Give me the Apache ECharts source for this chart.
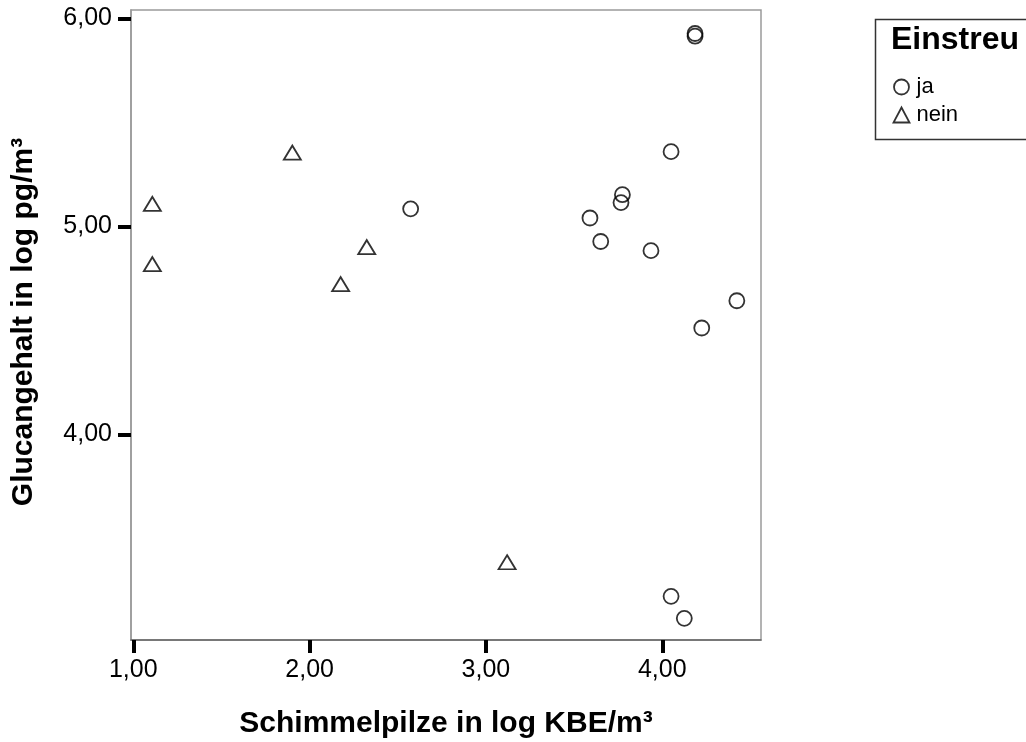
<!DOCTYPE html>
<html>
<head>
<meta charset="utf-8">
<script src="https://cdn.jsdelivr.net/npm/echarts@6/dist/echarts.min.js"></script>
<style>html,body{margin:0;padding:0;background:#fff}#c{width:1026px;height:742px}</style>
</head>
<body>
<div id="c"></div>
<script>
// Data
const groupNames = ['ja', 'nein'];
const jaX = [2.573, 3.590, 3.651, 3.774, 3.766, 3.936, 4.050, 4.186, 4.186, 4.224, 4.423, 4.050, 4.125];
const jaY = [5.085, 5.041, 4.928, 5.153, 5.115, 4.884, 5.360, 5.928, 5.915, 4.512, 4.643, 3.222, 3.116];
const neinX = [1.108, 1.108, 1.902, 2.176, 2.324, 3.120];
const neinY = [5.109, 4.819, 5.355, 4.723, 4.901, 3.386];
const xTicks = [1, 2, 3, 4];
const yTicks = [4, 5, 6];
const xTitle = 'Schimmelpilze in log KBE/m³';
const yTitle = 'Glucangehalt in log pg/m³';
const legendTitle = 'Einstreu';

const FONT = '"Liberation Sans", Arial, Helvetica, sans-serif';
const fmt = v => Number(v).toFixed(2).replace('.', ',');
const pairs = (xs, ys) => xs.map((x, i) => [x, ys[i]]);

const chart = echarts.init(document.getElementById('c'), null, {renderer: 'canvas'});
chart.setOption({
  animation: false,
  backgroundColor: '#fff',
  grid: {left: 131, top: 10, right: 265, bottom: 102, show: true, borderColor: '#9a9a9a', borderWidth: 1.5},
  xAxis: {
    type: 'value', min: 0.987, max: 4.560,
    axisLine: {show: true, lineStyle: {color: '#666', width: 1.5}},
    axisTick: {show: true, customValues: xTicks, length: 13, lineStyle: {color: '#000', width: 4}},
    axisLabel: {customValues: xTicks, formatter: fmt, margin: 18, fontSize: 25, color: '#000', fontFamily: FONT},
    splitLine: {show: false}
  },
  yAxis: {
    type: 'value', min: 3.012, max: 6.041,
    axisLine: {show: true, lineStyle: {color: '#9a9a9a', width: 1.5}},
    axisTick: {show: true, customValues: yTicks, length: 13, lineStyle: {color: '#000', width: 4}},
    axisLabel: {customValues: yTicks, formatter: fmt, margin: 19, fontSize: 25, color: '#000', fontFamily: FONT},
    splitLine: {show: false}
  },
  legend: {
    orient: 'vertical', left: 886, top: 71, itemGap: 6, itemWidth: 16, itemHeight: 15,
    textStyle: {fontSize: 22, color: '#000', fontFamily: FONT, padding: [0, 0, 0, 2]},
    data: [
      {name: groupNames[0], icon: 'circle', itemStyle: {color: 'none', borderColor: '#000', borderWidth: 1.8}},
      {name: groupNames[1], icon: 'triangle', itemStyle: {color: 'none', borderColor: '#000', borderWidth: 1.8}}
    ]
  },
  graphic: [
    {type: 'rect', left: 873, top: 17, shape: {width: 200, height: 120}, style: {fill: 'none', stroke: '#333', lineWidth: 1.5}},
    {type: 'text', x: 891, y: 56, style: {text: legendTitle, font: 'bold 32px ' + FONT, fill: '#000', textAlign: 'left', textVerticalAlign: 'bottom'}},
    {type: 'text', x: 446, y: 724, style: {text: xTitle, font: 'bold 30px ' + FONT, fill: '#000', textAlign: 'center', textVerticalAlign: 'middle'}},
    {type: 'text', x: 24, y: 322, rotation: Math.PI / 2, style: {text: yTitle, font: 'bold 30px ' + FONT, fill: '#000', textAlign: 'center', textVerticalAlign: 'middle'}}
  ],
  series: [
    {name: groupNames[0], type: 'scatter', symbol: 'circle', symbolSize: 15,
     itemStyle: {color: 'none', borderColor: '#000', borderWidth: 1.8}, data: pairs(jaX, jaY)},
    {name: groupNames[1], type: 'scatter', symbol: 'triangle', symbolSize: [17, 14],
     itemStyle: {color: 'none', borderColor: '#000', borderWidth: 1.8}, data: pairs(neinX, neinY)}
  ]
});
</script>
</body>
</html>
